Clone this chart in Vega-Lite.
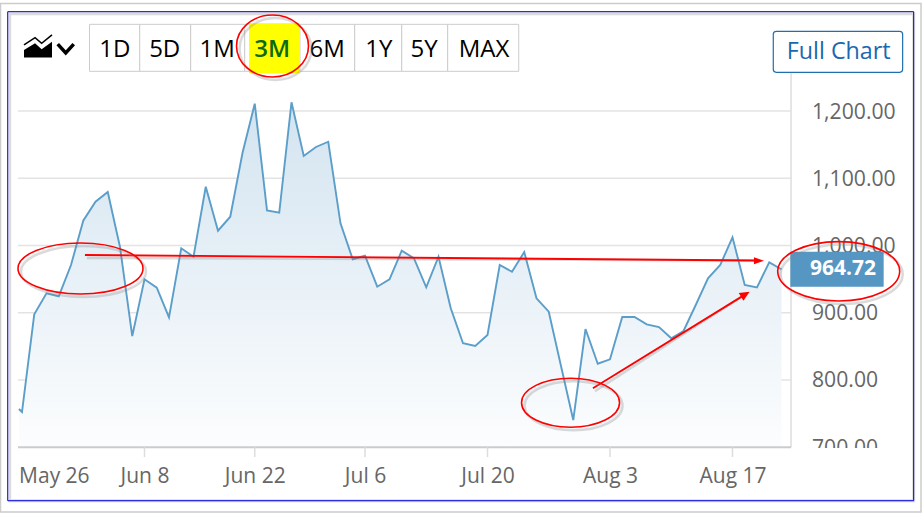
{"$schema":"https://vega.github.io/schema/vega-lite/v6.json","width":922,"height":515,"padding":0,"autosize":{"type":"none"},"background":"white","config":{"view":{"stroke":null},"font":"Open Sans"},
"datasets":{"prices":[{"t":-0.25,"price":756.9},{"t":0,"price":752.4},{"t":1,"price":897.7},{"t":2,"price":928.9},{"t":3,"price":924.5},{"t":4,"price":971},{"t":5,"price":1036.9},{"t":6,"price":1065.1},{"t":7,"price":1079.6},{"t":8,"price":997.8},{"t":9,"price":865.4},{"t":10,"price":949.7},{"t":11,"price":937.2},{"t":12,"price":893.2},{"t":13,"price":995.8},{"t":14,"price":983.3},{"t":15,"price":1087.4},{"t":16,"price":1022},{"t":17,"price":1042.8},{"t":18,"price":1137.5},{"t":19,"price":1210.9},{"t":20,"price":1052.3},{"t":21,"price":1048.8},{"t":22,"price":1212.9},{"t":23,"price":1133.1},{"t":24,"price":1146.5},{"t":25,"price":1154.3},{"t":26,"price":1033},{"t":27,"price":979.5},{"t":28,"price":984.8},{"t":29,"price":938.7},{"t":30,"price":949.7},{"t":31,"price":992.3},{"t":32,"price":981},{"t":33,"price":937.8},{"t":34,"price":983.3},{"t":35,"price":906.6},{"t":36,"price":854.6},{"t":37,"price":850.6},{"t":38,"price":866.9},{"t":39,"price":971},{"t":40,"price":961},{"t":41,"price":990.3},{"t":42,"price":921.5},{"t":43,"price":901.6},{"t":44,"price":820.8},{"t":45,"price":740.5},{"t":46,"price":875.8},{"t":47,"price":824.2},{"t":48,"price":830.8},{"t":49,"price":893.7},{"t":50,"price":893.7},{"t":51,"price":882.8},{"t":52,"price":878.8},{"t":53,"price":862},{"t":54,"price":872.9},{"t":55,"price":911.5},{"t":56,"price":951.2},{"t":57,"price":971},{"t":58,"price":1012.2},{"t":59,"price":941.3},{"t":60,"price":937.8},{"t":61,"price":975},{"t":62,"price":964.72}],
"buttons":[{"label":"1D","t":5.51,"t2":9.61,"c":7.57},{"label":"5D","t":9.61,"t2":13.77,"c":11.65},{"label":"1M","t":13.77,"t2":18.18,"c":15.94},{"label":"3M","t":18.18,"t2":22.69,"c":20.43},{"label":"6M","t":22.69,"t2":27.16,"c":24.92},{"label":"1Y","t":27.16,"t2":31,"c":29.12},{"label":"5Y","t":31,"t2":34.75,"c":32.82},{"label":"MAX","t":34.75,"t2":40.55,"c":37.71}],
"grid":[{"price":800,"t":-0.327,"t2":62.78},{"price":900,"t":-0.327,"t2":62.78},{"price":1000,"t":-0.327,"t2":62.78},{"price":1100,"t":-0.327,"t2":62.78},{"price":1200,"t":-0.327,"t2":62.78}],
"ticks":[{"t":10,"price":700,"price2":685.5},{"t":19,"price":700,"price2":685.5},{"t":28,"price":700,"price2":685.5},{"t":38,"price":700,"price2":685.5},{"t":48,"price":700,"price2":685.5},{"t":58,"price":700,"price2":685.5}],
"arrows":[{"t":5.14,"price":985.9,"t2":59.92,"price2":977.7},{"t":46.61,"price":787.7,"t2":59.05,"price2":927.4}]},
"encoding":{"x":{"field":"t","type":"quantitative","scale":{"domain":[-1.796,73.47]},"axis":{"orient":"bottom","offset":-68,"title":null,"grid":false,"domain":false,"ticks":false,"values":[2.6,10,19,28,38,48,58],"labelExpr":"datum.value==2.6?'May 26':datum.value==10?'Jun 8':datum.value==19?'Jun 22':datum.value==28?'Jul 6':datum.value==38?'Jul 20':datum.value==48?'Aug 3':'Aug 17'","labelFont":"Open Sans","labelFontSize":21,"labelColor":"#666666","labelBaseline":"alphabetic","labelPadding":35,"labelOverlap":false,"labelBound":false,"labelFlush":false}},
"y":{"field":"price","type":"quantitative","scale":{"domain":[599.25,1365.06],"nice":false,"zero":false},"axis":{"orient":"right","offset":-122,"title":null,"grid":false,"domain":false,"ticks":false,"values":[700,800,900,1000,1100,1200],"format":",.2f","labelFont":"Open Sans","labelFontSize":21.2,"labelColor":"#666666","labelPadding":11.5,"labelOffset":1,"labelOverlap":false,"labelBound":false,"labelFlush":false,"labelAlign":"left"}}},
"layer":[
{"data":{"values":[{"t":-1.755,"t2":73.39,"price":1359.9,"price2":603.7}]},"mark":{"type":"rect","filled":false,"stroke":"#cccccc","strokeWidth":1.5},"encoding":{"x2":{"field":"t2"},"y2":{"field":"price2"}}},
{"data":{"values":[{"t":-1.167,"t2":72.79,"price":1347.7,"price2":620.5}]},"mark":{"type":"rect","filled":false,"stroke":"#888888","strokeOpacity":0.3,"strokeWidth":3,"xOffset":2,"yOffset":2},"encoding":{"x2":{"field":"t2"},"y2":{"field":"price2"}}},
{"data":{"values":[{"t":-1.167,"t2":72.79,"price":1347.7,"price2":620.5}]},"mark":{"type":"rect","filled":false,"stroke":"#0000e0","strokeWidth":1},"encoding":{"x2":{"field":"t2"},"y2":{"field":"price2"}}},
{"data":{"name":"grid"},"mark":{"type":"rule","stroke":"#e3e3e3","strokeWidth":1.5},"encoding":{"x2":{"field":"t2"}}},
{"data":{"name":"prices"},"mark":{"type":"area","fill":{"gradient":"linear","x1":0,"y1":0,"x2":0,"y2":1,"stops":[{"offset":0,"color":"#d3e4f0"},{"offset":1,"color":"#fcfdfe"}]}},"encoding":{"y2":{"datum":700}}},
{"data":{"values":[{"t":62.78,"price":1258,"price2":700}]},"mark":{"type":"rule","stroke":"#dddddd","strokeWidth":1.5},"encoding":{"y2":{"field":"price2"}}},
{"data":{"values":[{"t":-0.327,"t2":62.78,"price":700}]},"mark":{"type":"rule","stroke":"#cccccc","strokeWidth":2},"encoding":{"x2":{"field":"t2"}}},
{"data":{"name":"ticks"},"mark":{"type":"rule","stroke":"#dddddd","strokeWidth":1.5},"encoding":{"y2":{"field":"price2"}}},
{"data":{"name":"prices"},"mark":{"type":"line","stroke":"#5b9ec9","strokeWidth":1.9,"interpolate":"linear"}},
{"data":{"values":[{"t":62.9,"t2":72,"price":699,"price2":680}]},"mark":{"type":"rect","fill":"white"},"encoding":{"x2":{"field":"t2"},"y2":{"field":"price2"}}},
{"data":{"name":"buttons"},"transform":[{"calculate":"1328.9","as":"price"},{"calculate":"1259","as":"price2"}],"mark":{"type":"rect","fill":"white","stroke":"#cccccc","strokeWidth":1},"encoding":{"x2":{"field":"t2"},"y2":{"field":"price2"}}},
{"data":{"values":[{"t":18.53,"t2":22.69,"price":1330.4,"price2":1256.1}]},"mark":{"type":"rect","fill":"#ffff00"},"encoding":{"x2":{"field":"t2"},"y2":{"field":"price2"}}},
{"data":{"name":"buttons"},"transform":[{"filter":"datum.label!='3M'"},{"calculate":"1279.9","as":"price"}],"mark":{"type":"text","font":"Open Sans","fontSize":24,"baseline":"alphabetic","align":"center","color":"#000000"},"encoding":{"x":{"field":"c","type":"quantitative"},"text":{"field":"label"}}},
{"data":{"name":"buttons"},"transform":[{"filter":"datum.label=='3M'"},{"calculate":"1279.9","as":"price"}],"mark":{"type":"text","font":"Open Sans","fontSize":24,"fontWeight":600,"baseline":"alphabetic","align":"center","color":"#0b6a12"},"encoding":{"x":{"field":"c","type":"quantitative"},"text":{"field":"label"}}},
{"data":{"values":[{"t":61.33,"t2":71.89,"price":1318.5,"price2":1257.5}]},"mark":{"type":"rect","fill":"white","stroke":"#1f6fb2","strokeWidth":1.2,"cornerRadius":3},"encoding":{"x2":{"field":"t2"},"y2":{"field":"price2"}}},
{"data":{"values":[{"t":66.67,"price":1277.3,"label":"Full Chart"}]},"mark":{"type":"text","font":"Open Sans","fontSize":23.3,"baseline":"alphabetic","align":"center","color":"#1a69b0"},"encoding":{"text":{"field":"label"}}},
{"data":{"values":[{"t":1.306,"price":1296.7}]},"mark":{"type":"point","shape":"M -1 0.82 L -1 0.29 L -0.21 -0.19 L 0.26 0.24 L 1 -0.31 L 1 0.82 Z","size":784,"filled":true,"fill":"#000000","opacity":1,"strokeWidth":0}},
{"data":{"values":[{"t":1.306,"price":1296.7}]},"mark":{"type":"point","shape":"M -1 -0.07 L -0.21 -0.59 L 0.26 -0.19 L 1 -0.79","size":784,"filled":false,"stroke":"#000000","opacity":1,"strokeWidth":1.5}},
{"data":{"values":[{"t":3.57,"price":1292.9}]},"mark":{"type":"point","shape":"M -1 -0.55 L 0 0.55 L 1 -0.55","size":256,"filled":false,"stroke":"#000000","opacity":1,"strokeWidth":3.5}},
{"data":{"values":[{"t":62.72,"t2":70.34,"price":990.8,"price2":938.7}]},"mark":{"type":"rect","fill":"#5596c3"},"encoding":{"x2":{"field":"t2"},"y2":{"field":"price2"}}},
{"data":{"values":[{"t":67.02,"price":956.1,"label":"964.72"}]},"mark":{"type":"text","font":"Open Sans","fontSize":21,"fontWeight":"bold","baseline":"alphabetic","align":"center","color":"#ffffff"},"encoding":{"text":{"field":"label"}}},
{"data":{"name":"arrows"},"mark":{"type":"rule","stroke":"#888888","strokeOpacity":0.3,"strokeWidth":2.5,"xOffset":2,"yOffset":3},"encoding":{"x2":{"field":"t2"},"y2":{"field":"price2"}}},
{"data":{"name":"arrows"},"mark":{"type":"rule","stroke":"#ff0000","strokeWidth":1.9},"encoding":{"x2":{"field":"t2"},"y2":{"field":"price2"}}},
{"data":{"values":[{"t":60.16,"price":977.4}]},"mark":{"type":"point","shape":"M -1 -0.7 L 1 0 L -1 0.7 Z","size":100,"filled":true,"fill":"#ff0000","opacity":1,"strokeWidth":0}},
{"data":{"values":[{"t":59.05,"price":927.4}]},"mark":{"type":"point","shape":"M -1 -0.9 L 1 0 L -1 0.9 Z","size":100,"angle":328.3,"filled":true,"fill":"#ff0000","opacity":1,"strokeWidth":0}},
{"data":{"values":[{"t":4.776,"price":965.8}]},"mark":{"type":"point","shape":"M -1 0 C -1 -0.2253 -0.5523 -0.408 0 -0.408 C 0.5523 -0.408 1 -0.2253 1 0 C 1 0.2253 0.5523 0.408 0 0.408 C -0.5523 0.408 -1 0.2253 -1 0 Z","size":15625,"filled":false,"stroke":"#888888","opacity":0.3,"strokeWidth":2.5,"xOffset":3,"yOffset":3}},
{"data":{"values":[{"t":4.776,"price":965.8}]},"mark":{"type":"point","shape":"M -1 0 C -1 -0.2253 -0.5523 -0.408 0 -0.408 C 0.5523 -0.408 1 -0.2253 1 0 C 1 0.2253 0.5523 0.408 0 0.408 C -0.5523 0.408 -1 0.2253 -1 0 Z","size":15625,"filled":false,"stroke":"#ff0000","opacity":1,"strokeWidth":1.6}},
{"data":{"values":[{"t":20.45,"price":1296.7}]},"mark":{"type":"point","shape":"M -1 0 C -1 -0.4755 -0.5523 -0.861 0 -0.861 C 0.5523 -0.861 1 -0.4755 1 0 C 1 0.4755 0.5523 0.861 0 0.861 C -0.5523 0.861 -1 0.4755 -1 0 Z","size":5184,"filled":false,"stroke":"#888888","opacity":0.3,"strokeWidth":2.5,"xOffset":3,"yOffset":3}},
{"data":{"values":[{"t":20.45,"price":1296.7}]},"mark":{"type":"point","shape":"M -1 0 C -1 -0.4755 -0.5523 -0.861 0 -0.861 C 0.5523 -0.861 1 -0.4755 1 0 C 1 0.4755 0.5523 0.861 0 0.861 C -0.5523 0.861 -1 0.4755 -1 0 Z","size":5184,"filled":false,"stroke":"#ff0000","opacity":1,"strokeWidth":1.6}},
{"data":{"values":[{"t":44.78,"price":766.2}]},"mark":{"type":"point","shape":"M -1 0 C -1 -0.2762 -0.5523 -0.5 0 -0.5 C 0.5523 -0.5 1 -0.2762 1 0 C 1 0.2762 0.5523 0.5 0 0.5 C -0.5523 0.5 -1 0.2762 -1 0 Z","size":9604,"filled":false,"stroke":"#888888","opacity":0.3,"strokeWidth":2.5,"xOffset":3,"yOffset":3}},
{"data":{"values":[{"t":44.78,"price":766.2}]},"mark":{"type":"point","shape":"M -1 0 C -1 -0.2762 -0.5523 -0.5 0 -0.5 C 0.5523 -0.5 1 -0.2762 1 0 C 1 0.2762 0.5523 0.5 0 0.5 C -0.5523 0.5 -1 0.2762 -1 0 Z","size":9604,"filled":false,"stroke":"#ff0000","opacity":1,"strokeWidth":1.6}},
{"data":{"values":[{"t":66.67,"price":961.6}]},"mark":{"type":"point","shape":"M -1 0 C -1 -0.269 -0.5523 -0.487 0 -0.487 C 0.5523 -0.487 1 -0.269 1 0 C 1 0.269 0.5523 0.487 0 0.487 C -0.5523 0.487 -1 0.269 -1 0 Z","size":14884,"filled":false,"stroke":"#888888","opacity":0.3,"strokeWidth":2.5,"xOffset":3,"yOffset":3}},
{"data":{"values":[{"t":66.67,"price":961.6}]},"mark":{"type":"point","shape":"M -1 0 C -1 -0.269 -0.5523 -0.487 0 -0.487 C 0.5523 -0.487 1 -0.269 1 0 C 1 0.269 0.5523 0.487 0 0.487 C -0.5523 0.487 -1 0.269 -1 0 Z","size":14884,"filled":false,"stroke":"#ff0000","opacity":1,"strokeWidth":1.6}}
]}
